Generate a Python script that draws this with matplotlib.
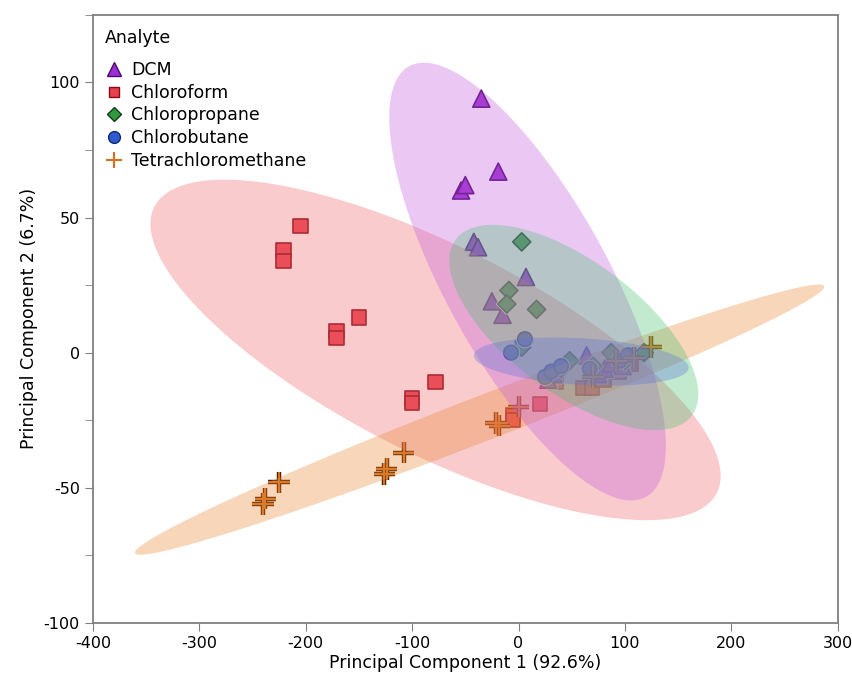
import numpy as np
import matplotlib.pyplot as plt
from matplotlib.lines import Line2D
import matplotlib.patheffects as pe

plt.rcParams['axes.unicode_minus'] = False

# PCA scores
dcm_x = [-35, -19, -54, -50, -42, -38, 7, -25, -15, 28, 33, 64, 75, 81, 87, 98]
dcm_y = [94, 67, 60, 62, 41, 39, 28, 19, 14, -10, -8, -1, -8, -6, -4, -5]

chloroform_x = [-205, -221, -221, -150, -171, -171, -78, -100, -100, -5, -5, 20, 35, 61, 69, 80, 94, 106]
chloroform_y = [47, 38, 34, 13, 8, 5.5, -11, -17, -18.5, -23, -25, -19, -11, -13, -13, -10, -7, -4]

propane_x = [3, -9, -11, 17, 5, 3, 40, 48, 70, 87, 100, 118]
propane_y = [41, 23, 18, 16, 4, 2, -6, -3, -5, 0, -3, 0]

butane_x = [-7, 6, 25, 31, 40, 67, 95, 103]
butane_y = [0, 5, -9, -7, -5, -6, -3, -1]

tetra_x = [-238, -240, -225, -124, -126, -108, -21, -18, 0, 70, 92, 109, 125]
tetra_y = [-54, -56, -48, -43, -45, -37, -26, -27, -20, -9, -3, -2, 2]

# density ellipses: centre x, centre y, half width in x, half height in y, correlation
ellipse_chloroform = (-78, 1, 268, 63, -0.74)
ellipse_dcm = (8.5, 26.3, 130, 81, -0.75)
ellipse_propane = (52, 9.3, 117, 38, -0.65)
ellipse_butane = (59, -3.3, 101, 8.9, -0.25)
ellipse_tetra = (-36.6, -24.8, 324, 50, 0.984)


def ellipse_pts(cx, cy, sx, sy, r):
    t = np.linspace(0, 2 * np.pi, 300)
    x = cx + sx * np.cos(t)
    y = cy + sy * (r * np.cos(t) + np.sqrt(1 - r ** 2) * np.sin(t))
    return x, y


fig, ax = plt.subplots(figsize=(8.53, 6.77), dpi=100)
fig.subplots_adjust(left=0.109, right=0.982, bottom=0.080, top=0.978)

halo = [pe.Stroke(linewidth=2.5, foreground='white'), pe.Normal()]

ax.scatter(chloroform_x, chloroform_y, marker='s', s=105, c='#e8404f', edgecolors='#8a0a16',
           linewidths=1.2, zorder=2, path_effects=halo)
ax.scatter(dcm_x, dcm_y, marker='^', s=150, c='#9b2fd0', edgecolors='#4a0a70',
           linewidths=1.2, zorder=2, path_effects=halo)
ax.scatter(propane_x, propane_y, marker='D', s=85, c='#2f9a3f', edgecolors='#0f3a18',
           linewidths=1.2, zorder=2, path_effects=halo)
ax.scatter(butane_x, butane_y, marker='o', s=110, c='#3a5ad0', edgecolors='#0f2a70',
           linewidths=1.2, zorder=2, path_effects=halo)
ax.scatter(tetra_x, tetra_y, marker='+', s=240, c='#d9701c', linewidths=1.6, zorder=2,
           path_effects=[pe.Stroke(linewidth=3.2, foreground='#3a1a00'), pe.Normal()])

for params, col, a in [(ellipse_chloroform, '#ee6a6e', 0.35),
                       (ellipse_tetra, '#e98a3a', 0.35),
                       (ellipse_dcm, '#c45ae0', 0.33),
                       (ellipse_propane, '#48c070', 0.33),
                       (ellipse_butane, '#5a74d8', 0.33)]:
    ex, ey = ellipse_pts(*params)
    ax.fill(ex, ey, color=col, alpha=a, lw=0, zorder=3)

ax.set_xlim(-400, 300)
ax.set_ylim(-100, 125)
ax.set_xticks(range(-400, 301, 100))
ax.set_yticks(range(-100, 101, 50))
ax.set_yticks(range(-75, 126, 50), minor=True)
ax.tick_params(axis='both', direction='out', length=6, color='#808080', labelsize=11.5)
ax.tick_params(axis='y', which='minor', direction='out', length=6, color='#808080')
for s in ax.spines.values():
    s.set_color('#808080')
    s.set_linewidth(1.3)

ax.set_xlabel('Principal Component 1 (92.6%)', fontsize=12.5, labelpad=2)
ax.set_ylabel('Principal Component 2 (6.7%)', fontsize=12.5)

handles = [
    Line2D([], [], ls='', marker='^', ms=10, mfc='#9b2fd0', mec='#4a0a70'),
    Line2D([], [], ls='', marker='s', ms=7.5, mfc='#e8404f', mec='#8a0a16'),
    Line2D([], [], ls='', marker='D', ms=7.5, mfc='#2f9a3f', mec='#0f3a18'),
    Line2D([], [], ls='', marker='o', ms=8.5, mfc='#2e5bd0', mec='#0f2a70'),
    Line2D([], [], ls='', marker='+', ms=12, mew=1.5, color='#d9701c'),
]
labels = ['DCM', 'Chloroform', 'Chloropropane', 'Chlorobutane', 'Tetrachloromethane']
ax.text(0.016, 0.962, 'Analyte', transform=ax.transAxes, fontsize=12.5, va='center', ha='left')
leg = ax.legend(handles, labels, loc='upper left', frameon=False,
                fontsize=12.5, handlelength=0.9, bbox_to_anchor=(0.008, 0.936),
                handletextpad=0.55, labelspacing=0.28, borderaxespad=0.0)

plt.savefig('out.png')
